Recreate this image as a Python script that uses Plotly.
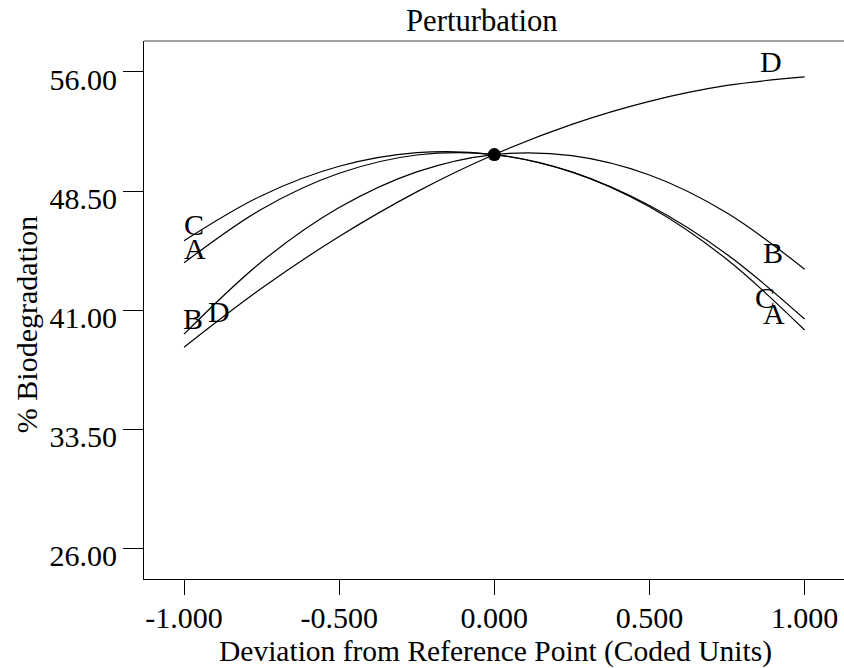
import plotly.graph_objects as go

# Coded deviation from reference point
x_coded = [-1.0, -0.75, -0.5, -0.25, 0.0, 0.25, 0.5, 0.75, 1.0]

# % Biodegradation
series_A = [43.98, 47.36, 49.62, 50.77, 50.80, 49.71, 47.51, 44.19, 39.75]
series_B = [39.49, 44.05, 47.46, 49.71, 50.80, 50.73, 49.51, 47.12, 43.58]
series_C = [45.37, 48.21, 50.06, 50.92, 50.80, 49.69, 47.59, 44.51, 40.44]
series_D = [38.67, 42.38, 45.64, 48.45, 50.80, 52.70, 54.15, 55.15, 55.69]
series_names = ["A", "B", "C", "D"]

ref_x = [0.0]
ref_y = [50.80]

x_tickvals = [-1.0, -0.5, 0.0, 0.5, 1.0]
x_ticktext = ["-1.000", "-0.500", "0.000", "0.500", "1.000"]
y_tickvals = [26.0, 33.5, 41.0, 48.5, 56.0]
y_ticktext = ["26.00", "33.50", "41.00", "48.50", "56.00"]

# label positions (layout, data coords)
label_pos = [
    ("C", -0.968, 46.40), ("A", -0.965, 44.88), ("B", -0.971, 40.46), ("D", -0.887, 40.90),
    ("D", 0.893, 56.69), ("B", 0.897, 44.63), ("C", 0.871, 41.79), ("A", 0.900, 40.78),
]

FONT = "Liberation Serif, Times New Roman, serif"
Y_RANGE = [24.07, 57.95]
Y_LABEL_SHIFT = 0.47  # tick labels sit slightly below their ticks

fig = go.Figure()
for name, ys in zip(series_names, [series_A, series_B, series_C, series_D]):
    fig.add_trace(go.Scatter(
        x=x_coded, y=ys, mode="lines", name=name,
        line=dict(color="black", width=1.2, shape="spline", smoothing=1.0),
        showlegend=False, hoverinfo="skip"))

fig.add_trace(go.Scatter(
    x=ref_x, y=ref_y, mode="markers",
    marker=dict(color="black", size=13, line=dict(width=0)),
    showlegend=False, hoverinfo="skip"))

# invisible trace to activate the label axis
fig.add_trace(go.Scatter(x=[None], y=[None], yaxis="y2", showlegend=False, hoverinfo="skip"))

annotations = []
for txt, ax, ay in label_pos:
    annotations.append(dict(x=ax, y=ay, xref="x", yref="y", text=txt, showarrow=False,
                            font=dict(family=FONT, size=30, color="black"),
                            xanchor="center", yanchor="middle"))

annotations.append(dict(x=(495 - 144) / 700, y=-(651.5 - 579) / 538.3, xref="paper", yref="paper",
                        text="Deviation from Reference Point (Coded Units)", showarrow=False,
                        font=dict(family=FONT, size=29.5, color="black"),
                        xanchor="center", yanchor="middle"))
annotations.append(dict(x=-(144 - 26) / 700, y=(579 - 325) / 538.3, xref="paper", yref="paper",
                        text="% Biodegradation", showarrow=False, textangle=-90,
                        font=dict(family=FONT, size=30, color="black"),
                        xanchor="center", yanchor="middle"))
annotations.append(dict(x=(481.5 - 144) / 700, y=1 + (40.7 - 21) / 538.3, xref="paper", yref="paper",
                        text="Perturbation", showarrow=False,
                        font=dict(family=FONT, size=30.7, color="black"),
                        xanchor="center", yanchor="middle"))

fig.update_layout(
    width=844, height=668,
    margin=dict(l=144, r=0, t=41, b=89, pad=0),
    paper_bgcolor="white", plot_bgcolor="white",
    font=dict(family=FONT, size=30, color="black"),
    annotations=annotations,
    shapes=[dict(type="line", xref="paper", yref="paper", x0=0, x1=1, y0=1, y1=1,
                 line=dict(color="#7f7f7f", width=1.5))],
    xaxis=dict(range=[-1.129, 1.127], tickvals=x_tickvals, ticktext=x_ticktext,
               showgrid=False, zeroline=False, showline=True, linecolor="black", linewidth=1,
               ticks="outside", ticklen=15, tickcolor="black", tickwidth=1,
               ticklabelstandoff=-3,
               tickfont=dict(family=FONT, size=30, color="black")),
    yaxis=dict(range=Y_RANGE, tickvals=y_tickvals, showticklabels=False,
               showgrid=False, zeroline=False, showline=True, linecolor="black", linewidth=1,
               ticks="outside", ticklen=20, tickcolor="black", tickwidth=1),
    yaxis2=dict(range=[Y_RANGE[0] + Y_LABEL_SHIFT, Y_RANGE[1] + Y_LABEL_SHIFT],
                overlaying="y", side="left", tickvals=y_tickvals, ticktext=y_ticktext,
                showgrid=False, zeroline=False, showline=False,
                ticks="outside", ticklen=20, tickcolor="rgba(0,0,0,0)",
                tickfont=dict(family=FONT, size=30, color="black")),
)

fig.write_html("out.html")
